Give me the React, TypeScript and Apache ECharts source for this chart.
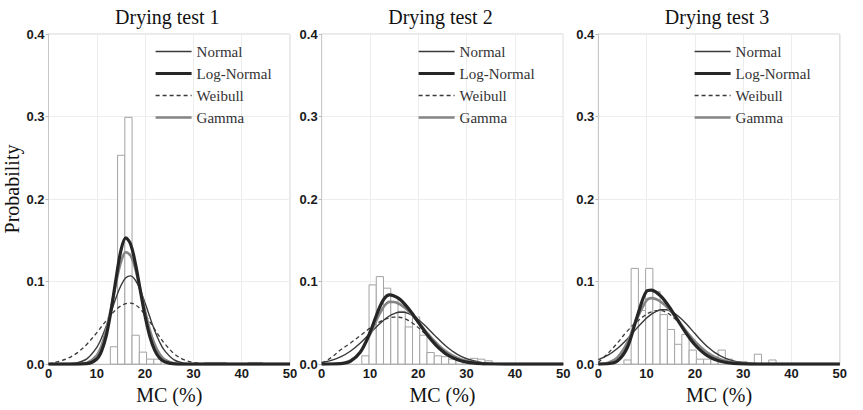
import React, { useEffect, useRef } from "react";
import * as echarts from "echarts";

// ---- Data -------------------------------------------------------------

const PANEL_TITLES = ["Drying test 1", "Drying test 2", "Drying test 3"];
const DIST_NAMES = ["Normal", "Log-Normal", "Weibull", "Gamma"];
const BIN_WIDTH = 1.5;

// MC (%) positions at which the fitted density curves are sampled
const CURVE_X = [0, 2, 4, 6, 8, 10, 11, 12, 13, 14, 15, 16, 17, 18, 19, 20, 21, 22, 23, 24, 26, 28, 30, 33, 36, 40, 45, 50];

// Drying test 1
const T1_BIN_START = [12.8, 14.3, 15.8, 17.3, 18.8, 20.3, 21.8, 32.3, 33.8, 35.3, 41.3, 42.8];
const T1_BIN_PROB = [0.021, 0.253, 0.299, 0.035, 0.0145, 0.006, 0.006, 0.002, 0.002, 0.002, 0.002, 0.002];
const T1_NORMAL = [0, 0, 0.0003, 0.0016, 0.0066, 0.0203, 0.0319, 0.0467, 0.0637, 0.0807, 0.0952, 0.1045, 0.1069, 0.1016, 0.0899, 0.074, 0.0567, 0.0404, 0.0268, 0.0166, 0.0051, 0.0012, 0.0002, 0, 0, 0, 0, 0];
const T1_LOGNORMAL = [0, 0, 0, 0, 0.0005, 0.0061, 0.016, 0.0355, 0.0665, 0.104, 0.1378, 0.1529, 0.1453, 0.1215, 0.0895, 0.058, 0.033, 0.0166, 0.0073, 0.0029, 0.0003, 0, 0, 0, 0, 0, 0, 0];
const T1_WEIBULL = [0, 0.003, 0.007, 0.0139, 0.0244, 0.0381, 0.0457, 0.0531, 0.0601, 0.0661, 0.0706, 0.0733, 0.074, 0.0718, 0.0669, 0.0598, 0.0512, 0.0421, 0.0332, 0.0251, 0.0127, 0.0054, 0.002, 0.0003, 0, 0, 0, 0];
const T1_GAMMA = [0, 0, 0, 0.0001, 0.0016, 0.0106, 0.0227, 0.0423, 0.069, 0.0987, 0.1236, 0.1355, 0.1315, 0.1149, 0.0904, 0.0641, 0.041, 0.0237, 0.0122, 0.0057, 0.0009, 0.0001, 0, 0, 0, 0, 0, 0];

// Drying test 2
const T2_BIN_START = [8.3, 9.8, 11.3, 12.8, 14.3, 15.8, 17.3, 18.8, 20.3, 21.8, 23.3, 24.8, 26.3, 27.8, 29.3, 30.8, 32.3, 33.8];
const T2_BIN_PROB = [0.01, 0.096, 0.106, 0.092, 0.082, 0.064, 0.045, 0.057, 0.035, 0.014, 0.01, 0.009, 0.006, 0.005, 0.004, 0.007, 0.006, 0.004];
const T2_NORMAL = [0.0021, 0.0046, 0.009, 0.0159, 0.0256, 0.0372, 0.0432, 0.0489, 0.0541, 0.0583, 0.0612, 0.0628, 0.0628, 0.0612, 0.0583, 0.0541, 0.0489, 0.0432, 0.0372, 0.0312, 0.0204, 0.0121, 0.0065, 0.0021, 0.0005, 0.0001, 0, 0];
const T2_LOGNORMAL = [0, 0.0001, 0.0006, 0.0037, 0.0144, 0.0384, 0.054, 0.0689, 0.0798, 0.0838, 0.0826, 0.0793, 0.074, 0.0671, 0.0592, 0.0508, 0.0424, 0.0344, 0.0272, 0.0209, 0.0113, 0.0055, 0.0024, 0.0006, 0.0001, 0, 0, 0];
const T2_WEIBULL = [0.001, 0.008, 0.0176, 0.0256, 0.0346, 0.0436, 0.0476, 0.0511, 0.0539, 0.0559, 0.0569, 0.0568, 0.0554, 0.0527, 0.0489, 0.0442, 0.0389, 0.0335, 0.0281, 0.0229, 0.0142, 0.008, 0.004, 0.0012, 0.0003, 0, 0, 0];
const T2_GAMMA = [0, 0.0002, 0.001, 0.0046, 0.015, 0.0356, 0.0485, 0.061, 0.0707, 0.0754, 0.0752, 0.0731, 0.0693, 0.0641, 0.0578, 0.0509, 0.0438, 0.0367, 0.0301, 0.024, 0.0142, 0.0077, 0.0037, 0.0011, 0.0002, 0, 0, 0];

// Drying test 3
const T3_BIN_START = [5.3, 6.8, 8.3, 9.8, 11.3, 12.8, 14.3, 15.8, 17.3, 18.8, 20.3, 21.8, 23.3, 24.8, 26.3, 27.8, 29.3, 32.3, 35.3];
const T3_BIN_PROB = [0.005, 0.116, 0.065, 0.116, 0.088, 0.06, 0.042, 0.024, 0.036, 0.017, 0.006, 0.006, 0.006, 0.017, 0.006, 0.003, 0.003, 0.012, 0.005];
const T3_NORMAL = [0.0054, 0.0108, 0.0192, 0.0305, 0.0436, 0.0558, 0.0606, 0.064, 0.0658, 0.0658, 0.064, 0.0606, 0.0558, 0.05, 0.0436, 0.037, 0.0305, 0.0245, 0.0192, 0.0146, 0.0078, 0.0037, 0.0016, 0.0004, 0.0001, 0, 0, 0];
const T3_LOGNORMAL = [0, 0.0004, 0.004, 0.0201, 0.0567, 0.0884, 0.0897, 0.087, 0.082, 0.075, 0.0666, 0.0574, 0.048, 0.039, 0.0308, 0.0235, 0.0175, 0.0126, 0.0088, 0.006, 0.0025, 0.0009, 0.0003, 0, 0, 0, 0, 0];
const T3_WEIBULL = [0.002, 0.013, 0.026, 0.04, 0.0515, 0.0605, 0.0633, 0.0648, 0.0648, 0.0629, 0.0592, 0.0542, 0.0481, 0.0415, 0.0347, 0.0282, 0.0222, 0.017, 0.0126, 0.0091, 0.0043, 0.0018, 0.0007, 0.0001, 0, 0, 0, 0];
const T3_GAMMA = [0.0003, 0.0018, 0.0084, 0.026, 0.0546, 0.0775, 0.08, 0.0786, 0.0753, 0.0703, 0.0641, 0.0569, 0.0493, 0.0416, 0.0343, 0.0275, 0.0216, 0.0165, 0.0123, 0.0089, 0.0044, 0.0019, 0.0008, 0.0001, 0, 0, 0, 0];

// ---- Layout & styling -------------------------------------------------

const PANELS = [
  { title: PANEL_TITLES[0], binStart: T1_BIN_START, binProb: T1_BIN_PROB, curves: [T1_NORMAL, T1_LOGNORMAL, T1_WEIBULL, T1_GAMMA] },
  { title: PANEL_TITLES[1], binStart: T2_BIN_START, binProb: T2_BIN_PROB, curves: [T2_NORMAL, T2_LOGNORMAL, T2_WEIBULL, T2_GAMMA] },
  { title: PANEL_TITLES[2], binStart: T3_BIN_START, binProb: T3_BIN_PROB, curves: [T3_NORMAL, T3_LOGNORMAL, T3_WEIBULL, T3_GAMMA] },
];

const GRID_LEFT = [48.5, 321.7, 598.3];
const GRID_WIDTH = 241.5;
const GRID_TOP = 34;
const GRID_HEIGHT = 333.7;
const LEGEND_LEFT = [154, 417, 693];

const SERIF = '"Liberation Serif", "Times New Roman", serif';
const SANS = '"Liberation Sans", Arial, sans-serif';

// Normal, Log-Normal, Weibull, Gamma
const CURVE_STYLES: any[] = [
  { color: "#3a3a3a", width: 1.4, type: "solid" },
  { color: "#262626", width: 3.2, type: "solid" },
  { color: "#3a3a3a", width: 1.3, type: [4, 3] },
  { color: "#858585", width: 2.6, type: "solid" },
];
// drawing order: Log-Normal ends on top
const DRAW_ORDER = [2, 0, 3, 1];

function buildOption() {
  const grid: any[] = [];
  const xAxis: any[] = [];
  const yAxis: any[] = [];
  const legend: any[] = [];
  const series: any[] = [];
  const graphic: any[] = [];

  const labelStyle = { fontFamily: SANS, fontSize: 13, fontWeight: "bold" as const, color: "#1a1a1a" };

  PANELS.forEach((panel, i) => {
    grid.push({
      left: GRID_LEFT[i],
      top: GRID_TOP,
      width: GRID_WIDTH,
      height: GRID_HEIGHT,
      show: true,
      borderColor: "#d2d2d2",
      borderWidth: 1,
    });
    xAxis.push({
      type: "value",
      gridIndex: i,
      min: 0,
      max: 50,
      interval: 10,
      name: "MC (%)",
      nameLocation: "middle",
      nameGap: 20,
      nameTextStyle: { fontFamily: SERIF, fontSize: 20, color: "#111" },
      axisLabel: { ...labelStyle, margin: 3 },
      axisLine: { show: true, lineStyle: { color: "#bdbdbd" } },
      axisTick: { show: false },
      splitLine: { show: true, lineStyle: { color: "#ededed" } },
    });
    yAxis.push({
      type: "value",
      gridIndex: i,
      min: 0,
      max: 0.4,
      interval: 0.1,
      axisLabel: { ...labelStyle, margin: 4, formatter: (v: number) => v.toFixed(1) },
      axisLine: { show: true, lineStyle: { color: "#c8c8c8" } },
      axisTick: { show: true, length: 3, lineStyle: { color: "#bbbbbb" } },
      splitLine: { show: true, lineStyle: { color: "#ededed" } },
    });
    legend.push({
      orient: "vertical",
      left: LEGEND_LEFT[i],
      top: 44,
      padding: 0,
      itemWidth: 36,
      itemHeight: 14,
      itemGap: 7,
      selectedMode: false,
      data: DIST_NAMES.map((name, j) => ({
        name,
        lineStyle: { color: CURVE_STYLES[j].color, width: CURVE_STYLES[j].width, type: CURVE_STYLES[j].type },
      })),
      itemStyle: { color: "rgba(0,0,0,0)", borderColor: "rgba(0,0,0,0)", borderWidth: 0 },
      textStyle: { fontFamily: SERIF, fontSize: 15, color: "#333" },
    });

    // histogram of measured moisture content
    const binStart = panel.binStart;
    series.push({
      type: "custom",
      xAxisIndex: i,
      yAxisIndex: i,
      silent: true,
      z: 1,
      data: binStart.map((s, k) => [s, panel.binProb[k]]),
      encode: { x: 0, y: 1 },
      renderItem: (_params: any, api: any) => {
        const start = api.value(0);
        const prob = api.value(1);
        const p0 = api.coord([start, 0]);
        const p1 = api.coord([start + BIN_WIDTH, prob]);
        return {
          type: "rect",
          shape: { x: p0[0], y: p1[1], width: p1[0] - p0[0], height: p0[1] - p1[1] },
          style: { fill: "#ffffff", stroke: "#a3a3a3", lineWidth: 1 },
        };
      },
    });

    // fitted distribution curves
    DRAW_ORDER.forEach((j, order) => {
      const st = CURVE_STYLES[j];
      series.push({
        type: "line",
        name: DIST_NAMES[j],
        xAxisIndex: i,
        yAxisIndex: i,
        z: 3 + order,
        symbol: "none",
        showSymbol: false,
        smooth: 0.35,
        data: CURVE_X.map((x, k) => [x, panel.curves[j][k]]),
        lineStyle: { color: st.color, width: st.width, type: st.type },
        itemStyle: { color: st.color },
      });
    });

    graphic.push({
      type: "text",
      x: GRID_LEFT[i] + GRID_WIDTH / 2 - 2,
      y: 17,
      style: {
        text: panel.title,
        font: `20px ${SERIF}`,
        fill: "#111",
        textAlign: "center",
        textVerticalAlign: "middle",
      },
    });
  });

  graphic.push({
    type: "text",
    x: 12,
    y: 189,
    rotation: Math.PI / 2,
    style: {
      text: "Probability",
      font: `20px ${SERIF}`,
      fill: "#111",
      textAlign: "center",
      textVerticalAlign: "middle",
    },
  });

  return {
    animation: false,
    backgroundColor: "#ffffff",
    grid,
    xAxis,
    yAxis,
    legend,
    series,
    graphic,
  };
}

export default function App() {
  const ref = useRef<HTMLDivElement>(null);

  useEffect(() => {
    if (!ref.current) return;
    const chart = echarts.init(ref.current, undefined, { renderer: "svg" });
    chart.setOption(buildOption() as any);
    return () => chart.dispose();
  }, []);

  return (
    <div
      ref={ref}
      style={{ position: "absolute", left: 0, top: 0, width: 863, height: 410, background: "#fff" }}
    />
  );
}
